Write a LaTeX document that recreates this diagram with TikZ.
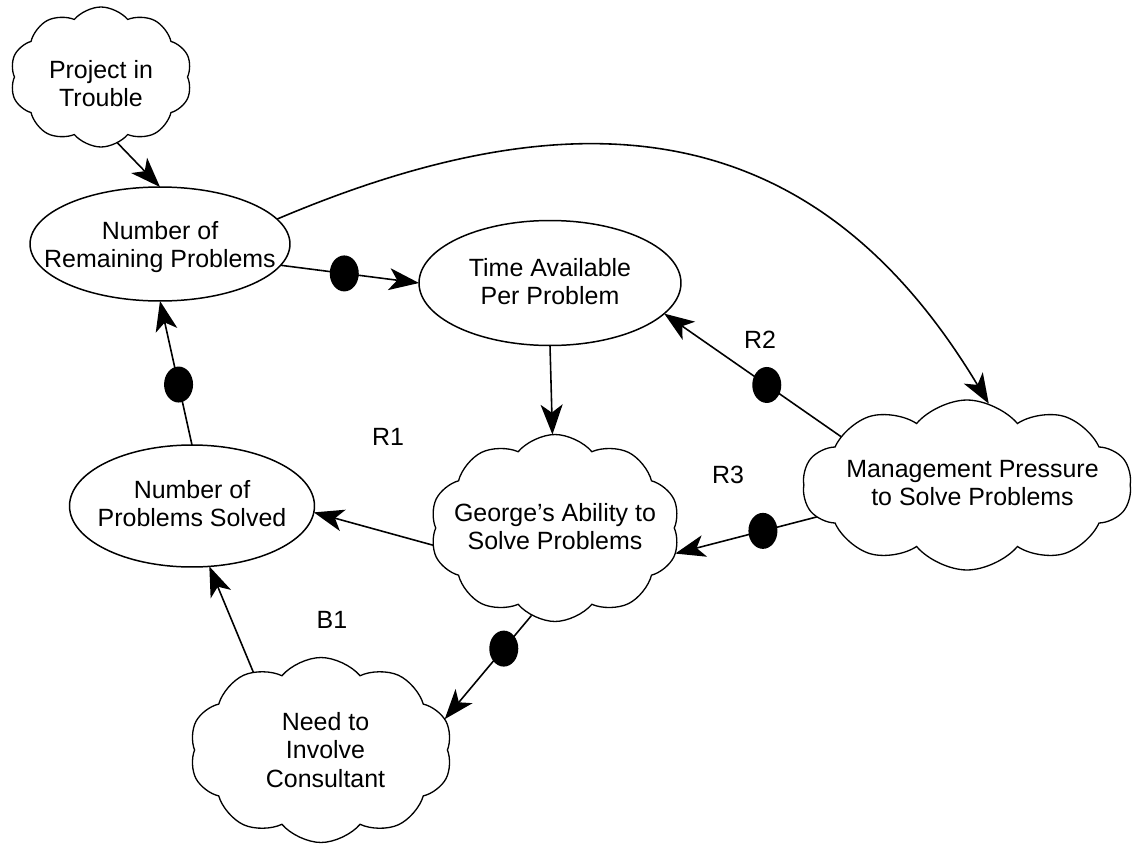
\documentclass[tikz,border=0pt]{standalone}
\usepackage{fontspec}
\setmainfont{Liberation Sans}
\usetikzlibrary{shapes.geometric,shapes.symbols,arrows.meta}
\newcommand{\mytxt}[3]{\makebox[0pt]{\kern#1\kern#1\raisebox{\dimexpr-0.25em-#2\relax}[0pt][0pt]{\begin{tabular}{@{}c@{}}#3\end{tabular}}}}
\begin{document}
\begin{tikzpicture}[x=0.02cm,y=-0.02cm,
  every node/.style={font=\fontsize{14.2}{16.3}\selectfont},
  ell/.style={draw, ellipse, inner sep=0pt, outer sep=0pt, line width=0.85pt},
  cld/.style={draw, cloud, cloud puffs=10, cloud puff arc=100, cloud ignores aspect, inner sep=0pt, outer sep=0pt, line width=0.75pt},
  conn/.style={line width=0.9pt, -{Stealth[length=0.6cm,width=0.44cm,inset=0.16cm]}},
  blob/.style={fill=black, ellipse, inner sep=0pt, outer sep=0pt, minimum width=0.58cm, minimum height=0.72cm},
  lbl/.style={inner sep=0pt}]
\useasboundingbox (0,0) rectangle (1132,845);
% nodes
\node[cld, minimum width=3.64cm, minimum height=2.8cm] (proj) at (101,77) {\mytxt{0pt}{0.2cm}{Project in\\Trouble}};
\node[ell, minimum width=5.2cm, minimum height=2.28cm] (nrp) at (160,244) {\mytxt{0pt}{0.08cm}{Number of\\Remaining Problems}};
\node[ell, minimum width=5.24cm, minimum height=2.5cm] (time) at (550,283) {\mytxt{0pt}{0.04cm}{Time Available\\Per Problem}};
\node[ell, minimum width=4.9cm, minimum height=2.44cm] (nps) at (192,506) {\mytxt{0pt}{0.02cm}{Number of\\Problems Solved}};
\node[cld, minimum width=5.0cm, minimum height=3.74cm] (george) at (555,528) {\mytxt{0pt}{0.04cm}{George's Ability to\\Solve Problems}};
\node[cld, minimum width=6.58cm, minimum height=3.4cm] (mgmt) at (967,485) {\mytxt{0.11cm}{0.02cm}{Management Pressure\\to Solve Problems}};
\node[cld, minimum width=5.26cm, minimum height=3.7cm] (need) at (321,750) {\mytxt{0.09cm}{0.06cm}{Need to\\Involve\\Consultant}};
% loop labels
\node[lbl] (r1) at (388,437) {R1};
\node[lbl] (r2) at (760,340) {R2};
\node[lbl] (r3) at (728,475) {R3};
\node[lbl] (b1) at (332,620) {B1};
% connectors
\draw[conn] (proj.-76) -- (nrp.north);
\draw[conn] (nrp.-10) -- (time.west) node[blob, pos=0.46] (d1) {};
\draw[conn] (nrp.12) .. controls +(23:6.8cm) and +(121:6.6cm) .. (mgmt.75);
\draw[conn] (time.south) -- (george);
\draw[conn] (mgmt.159) -- (time.-15) node[blob, pos=0.42] (d2) {};
\draw[conn] (mgmt.192) -- (george.-12) node[blob, pos=0.38] (d3) {};
\draw[conn] (george.188) -- (nps.-3);
\draw[conn] (nps.north) -- (nrp.south) node[blob, pos=0.42] (d4) {};
\draw[conn] (george.255) -- (need.14) node[blob, pos=0.32] (d5) {};
\draw[conn] (need.131) -- (nps.-74);
\end{tikzpicture}
\end{document}
